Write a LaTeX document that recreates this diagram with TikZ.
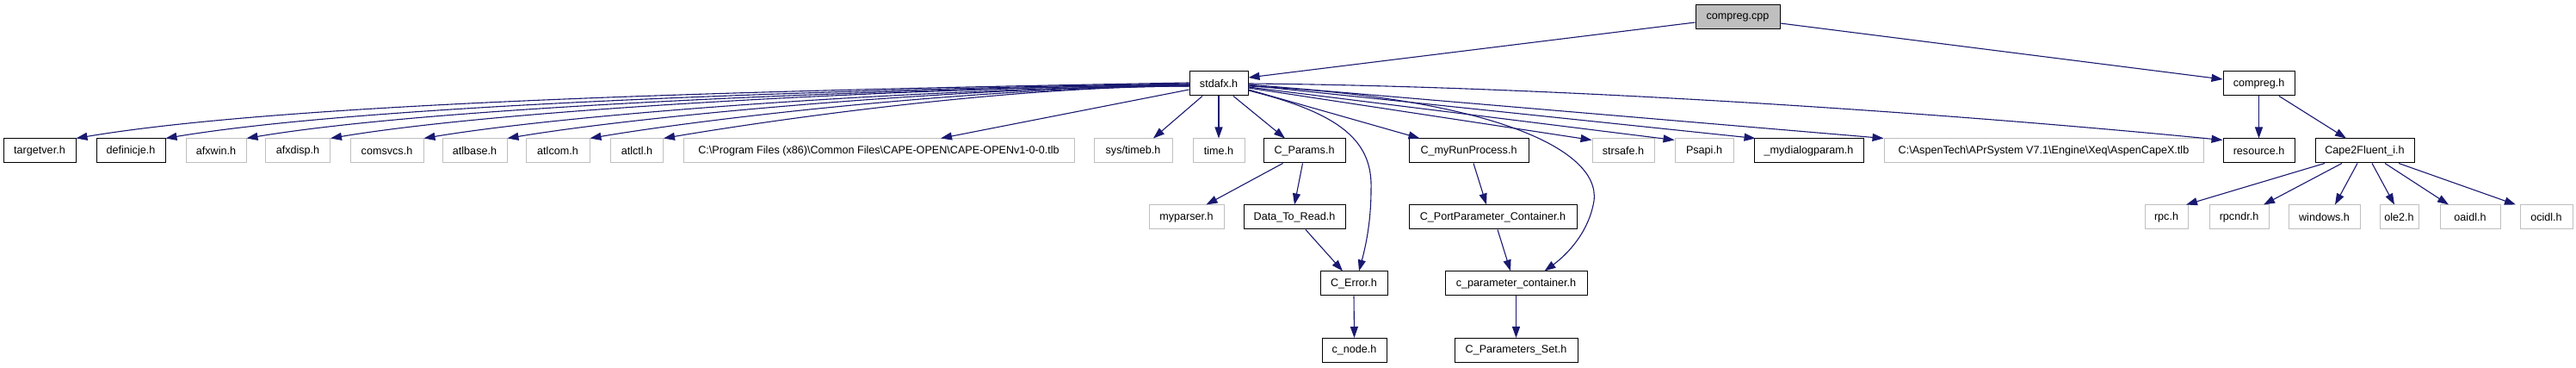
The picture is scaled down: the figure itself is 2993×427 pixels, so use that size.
\documentclass[tikz,border=0pt]{standalone}
\usepackage{fontspec}
\setmainfont{Liberation Sans}
\usetikzlibrary{arrows.meta}
\definecolor{edgeblue}{HTML}{191970}
\definecolor{grayline}{HTML}{BFBFBF}
\definecolor{grayfill}{HTML}{BFBFBF}
\begin{document}
\begin{tikzpicture}[x=1pt,y=-1pt,
  box/.style={draw=black, line width=1pt, fill=white, minimum height=28pt, inner sep=0pt, font=\fontsize{12.6pt}{15pt}\selectfont},
  ext/.style={box, draw=grayline},
  edge/.style={draw=edgeblue, line width=1.1pt, -{Triangle[length=13pt,width=9pt]}}]
\path[use as bounding box, fill=white] (0,0) rectangle (2993,427);
% rank 0
\node[box, fill=grayfill, minimum width=98pt] (cpp) at (2019,20) {compreg.cpp};
% rank 1
\node[box, minimum width=68pt] (stdafx) at (1416,97) {stdafx.h};
\node[box, minimum width=83pt] (compregh) at (2624.5,97) {compreg.h};
% rank 2
\node[box, minimum width=84pt] (targetver) at (46,175) {targetver.h};
\node[box, minimum width=80pt] (definicje) at (152,175) {definicje.h};
\node[ext, minimum width=70pt] (afxwin) at (251,175) {afxwin.h};
\node[ext, minimum width=75pt] (afxdisp) at (346,175) {afxdisp.h};
\node[ext, minimum width=85pt] (comsvcs) at (449.5,175) {comsvcs.h};
\node[ext, minimum width=75pt] (atlbase) at (551.5,175) {atlbase.h};
\node[ext, minimum width=74pt] (atlcom) at (648,175) {atlcom.h};
\node[ext, minimum width=61pt] (atlctl) at (740,175) {atlctl.h};
\node[ext, minimum width=454pt] (cape) at (1021,175) {C:\textbackslash{}Program Files (x86)\textbackslash{}Common Files\textbackslash{}CAPE-OPEN\textbackslash{}CAPE-OPENv1-0-0.tlb};
\node[ext, minimum width=91pt] (timeb) at (1316.5,175) {sys/timeb.h};
\node[ext, minimum width=60pt] (timeh) at (1416,175) {time.h};
\node[box, minimum width=95pt] (cparams) at (1515.5,175) {C\_Params.h};
\node[box, minimum width=139pt] (crp) at (1706.5,175) {C\_myRunProcess.h};
\node[ext, minimum width=72pt] (strsafe) at (1886,175) {strsafe.h};
\node[ext, minimum width=68pt] (psapi) at (1980,175) {Psapi.h};
\node[box, minimum width=127pt] (mydlg) at (2101.5,175) {\_mydialogparam.h};
\node[ext, minimum width=371pt] (aspen) at (2374.5,175) {C:\textbackslash{}AspenTech\textbackslash{}APrSystem V7.1\textbackslash{}Engine\textbackslash{}Xeq\textbackslash{}AspenCapeX.tlb};
\node[box, minimum width=83pt] (resource) at (2624.5,175) {resource.h};
\node[box, minimum width=115pt] (cape2f) at (2747.5,175) {Cape2Fluent\_i.h};
% rank 3
\node[ext, minimum width=87pt] (myparser) at (1378.5,252) {myparser.h};
\node[box, minimum width=118pt] (dtr) at (1504,252) {Data\_To\_Read.h};
\node[box, minimum width=195pt] (cppc) at (1734.5,252) {C\_PortParameter\_Container.h};
\node[ext, minimum width=50pt] (rpc) at (2517,252) {rpc.h};
\node[ext, minimum width=69pt] (rpcndr) at (2601.5,252) {rpcndr.h};
\node[ext, minimum width=83pt] (windows) at (2700.5,252) {windows.h};
\node[ext, minimum width=45pt] (ole2) at (2787.5,252) {ole2.h};
\node[ext, minimum width=70pt] (oaidl) at (2870,252) {oaidl.h};
\node[ext, minimum width=61pt] (ocidl) at (2958.5,252) {ocidl.h};
% rank 4
\node[box, minimum width=78pt] (cerror) at (1573,329) {C\_Error.h};
\node[box, minimum width=165pt] (cpc) at (1761.5,329) {c\_parameter\_container.h};
% rank 5
\node[box, minimum width=75pt] (cnode) at (1573.5,406.5) {c\_node.h};
\node[box, minimum width=143pt] (cps) at (1761.5,406.5) {C\_Parameters\_Set.h};

% edges from compreg.cpp
\draw[edge] ([yshift=-6pt]cpp.west) -- ([yshift=7pt]stdafx.east);
\draw[edge] ([yshift=-7pt]cpp.east) -- ([yshift=5pt]compregh.west);
% left fan from stdafx
\draw[edge] ([yshift=1pt]stdafx.west) .. controls (929,104) and (347,117) .. (targetver.north east);
\draw[edge] ([yshift=0pt]stdafx.west) .. controls (966,104) and (430,121) .. (definicje.north east);
\draw[edge] ([yshift=-1pt]stdafx.west) .. controls (998,104) and (505,124) .. (afxwin.north east);
\draw[edge] ([yshift=-1pt]stdafx.west) .. controls (1033,103) and (584,127) .. (afxdisp.north east);
\draw[edge] ([yshift=-2pt]stdafx.west) .. controls (1070,103) and (670,131) .. (comsvcs.north east);
\draw[edge] ([yshift=-2pt]stdafx.west) .. controls (1104,102) and (748,134) .. (atlbase.north east);
\draw[edge] ([yshift=-3pt]stdafx.west) .. controls (1138,101) and (824,137) .. (atlcom.north east);
\draw[edge] ([yshift=-3pt]stdafx.west) .. controls (1168,100) and (892,140) .. (atlctl.north east);
\draw[edge] ([yshift=-7pt]stdafx.west) -- ([xshift=72pt]cape.north);
% below stdafx
\draw[edge] ([xshift=-19pt]stdafx.south) -- ([xshift=23.5pt]timeb.north);
\draw[edge] (stdafx.south) -- (timeh.north);
\draw[edge] ([xshift=17pt]stdafx.south) -- ([xshift=-22.5pt]cparams.north);
\draw[edge] ([yshift=-8pt]stdafx.east) .. controls (1560,132) and (1595,165) .. (1593,220) .. controls (1593,262) and (1585,292) .. ([xshift=6pt]cerror.north);
\draw[edge] ([yshift=-7pt]stdafx.east) -- ([xshift=-57pt]crp.north);
\draw[edge] ([yshift=-3pt]stdafx.east) .. controls (1720,112) and (1860,170) .. (1852,233) .. controls (1846,270) and (1820,296) .. ([xshift=33pt]cpc.north);
\draw[edge] ([yshift=-5pt]stdafx.east) -- ([yshift=-2pt]strsafe.north west);
\draw[edge] ([yshift=-4pt]stdafx.east) -- ([yshift=-2pt]psapi.north west);
\draw[edge] ([yshift=-2pt]stdafx.east) -- ([xshift=2pt]mydlg.north west);
\draw[edge] ([yshift=-1pt]stdafx.east) -- (aspen.north west);
\draw[edge] (stdafx.east) .. controls (1800,100) and (2250,130) .. ([yshift=-2pt]resource.north west);
% C_Params subtree
\draw[edge] ([xshift=-25pt]cparams.south) -- ([xshift=23pt]myparser.north);
\draw[edge] ([xshift=-2pt]cparams.south) -- (dtr.north);
\draw[edge] ([xshift=13pt]dtr.south) -- ([xshift=-13pt]cerror.north);
\draw[edge] (cerror.south) -- (cnode.north);
% C_myRunProcess subtree
\draw[edge] ([xshift=5.5pt]crp.south) -- ([xshift=-7.5pt]cppc.north);
\draw[edge] ([xshift=5.5pt]cppc.south) -- ([xshift=-6.5pt]cpc.north);
\draw[edge] (cpc.south) -- (cps.north);
% compreg.h subtree
\draw[edge] (compregh.south) -- (resource.north);
\draw[edge] ([xshift=23.5pt]compregh.south) -- ([xshift=-21.5pt]cape2f.north);
\draw[edge] ([xshift=-46.5pt]cape2f.south) -- ([xshift=23pt]rpc.north);
\draw[edge] ([xshift=-26.5pt]cape2f.south) -- ([xshift=28.5pt]rpcndr.north);
\draw[edge] ([xshift=-8.5pt]cape2f.south) -- ([xshift=12.5pt]windows.north);
\draw[edge] ([xshift=8.5pt]cape2f.south) -- ([xshift=-5.5pt]ole2.north);
\draw[edge] ([xshift=23.5pt]cape2f.south) -- ([xshift=-25pt]oaidl.north);
\draw[edge] ([xshift=39.5pt]cape2f.south) -- ([xshift=-35.5pt]ocidl.north);
\end{tikzpicture}
\end{document}
